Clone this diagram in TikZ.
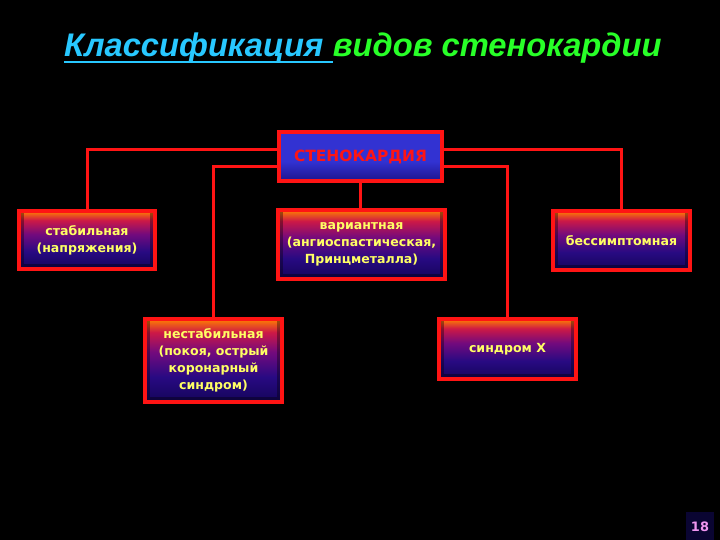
\documentclass[tikz,border=0pt]{standalone}
\usepackage{fontspec}
\setmainfont{DejaVu Sans}
\newfontfamily\titlefont{Liberation Sans}
\definecolor{boxred}{RGB}{255,20,20}
\definecolor{txtyel}{RGB}{255,255,100}
\definecolor{gorange}{RGB}{255,128,0}
\definecolor{gred}{RGB}{205,25,70}
\definecolor{gpurple}{RGB}{115,10,125}
\definecolor{gnavy}{RGB}{40,10,130}
\definecolor{gdark}{RGB}{20,5,90}
\definecolor{pagebg}{RGB}{10,5,50}
\definecolor{tblue}{RGB}{50,50,210}
\definecolor{tbluedark}{RGB}{30,20,140}
\definecolor{titcyan}{RGB}{40,200,255}
\definecolor{titgreen}{RGB}{40,255,40}
\definecolor{pagepink}{RGB}{240,150,240}
\pgfdeclareverticalshading{subsh}{100bp}{color(0bp)=(gdark); color(25bp)=(gdark); color(40bp)=(gnavy); color(55bp)=(gpurple); color(67bp)=(gred); color(75bp)=(gorange); color(100bp)=(gorange)}
\pgfdeclareverticalshading{topsh}{100bp}{color(0bp)=(tbluedark); color(25bp)=(tbluedark); color(45bp)=(tblue); color(75bp)=(tblue); color(100bp)=(tblue)}
\tikzset{
  innerframe/.style={path picture={
    \draw[black, opacity=0.35, line width=3bp]
      ([xshift=3.5bp,yshift=3bp]path picture bounding box.north west) --
      ([xshift=3.5bp,yshift=3.5bp]path picture bounding box.south west) --
      ([xshift=-3.5bp,yshift=3.5bp]path picture bounding box.south east) --
      ([xshift=-3.5bp,yshift=3bp]path picture bounding box.north east);}},
  subbox/.style={draw=boxred, line width=4bp, shading=subsh, innerframe, inner sep=0pt, align=center,
    text=txtyel, font=\bfseries\fontsize{12.6}{17}\selectfont},
  topbox/.style={draw=boxred, line width=4bp, shading=topsh, inner sep=0pt, align=center,
    text=boxred, font=\bfseries\fontsize{15.5}{17}\selectfont},
  conn/.style={draw=boxred, line width=3bp},
  titfont/.style={font=\titlefont\bfseries\itshape\fontsize{32.8}{36}\selectfont, inner sep=0pt}
}
\begin{document}
\begin{tikzpicture}[x=1bp,y=-1bp]
\fill[black] (0,0) rectangle (720,540);
\useasboundingbox (0,0) rectangle (720,540);
% title
\node[titfont, anchor=base west, text=titcyan] (tit1) at (64,57) {Классификация\hspace{0.28em}\strut};
\node[titfont, anchor=base west, text=titgreen] (tit2) at (tit1.base east) {видов стенокардии};
\draw[titcyan, line width=2bp] ([yshift=-5bp]tit1.base west) -- ([yshift=-5bp]tit1.base east);
% boxes
\node[topbox, minimum width=163bp, minimum height=49bp] (top) at (360.5,156.5) {СТЕНОКАРДИЯ};
\node[subbox, minimum width=136bp, minimum height=58bp] (stab) at (87,240) {стабильная\\(напряжения)};
\node[subbox, minimum width=167bp, minimum height=69bp] (var) at (361.5,244.5) {вариантная\\(ангиоспастическая,\\Принцметалла)};
\node[subbox, minimum width=137bp, minimum height=59bp] (bes) at (621.5,240.5) {бессимптомная};
\node[subbox, minimum width=137bp, minimum height=83bp] (unst) at (213.5,360.5) {нестабильная\\(покоя, острый\\коронарный\\синдром)};
\node[subbox, minimum width=137bp, minimum height=60bp] (synx) at (507.5,349) {синдром Х};
% connectors
\draw[conn] ([yshift=6.5bp]top.west) -| (stab.north);
\draw[conn] ([yshift=6.5bp]top.east) -| (bes.north);
\draw[conn] ([yshift=-10.5bp]top.west) -| (unst.north);
\draw[conn] ([yshift=-10.5bp]top.east) -| (synx.north);
\draw[conn] (top.south) -- (top.south |- var.north);
% page number
\fill[pagebg] (686,512) rectangle (714,540);
\node[text=pagepink, font=\bfseries\fontsize{13}{15}\selectfont, inner sep=0pt] (pnum) at (700,527) {18};
\end{tikzpicture}
\end{document}
